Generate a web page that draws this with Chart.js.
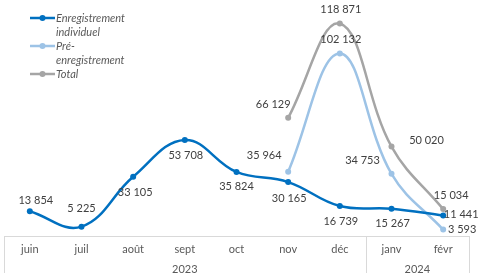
<!DOCTYPE html>
<html>
<head>
<meta charset="utf-8">
<script src="https://cdn.jsdelivr.net/npm/chart.js@4"></script>
<style>
  body { margin: 0; background: #fff; }
  #wrap { width: 481px; height: 273px; }
</style>
</head>
<body>
<div id="wrap"><canvas id="graf" width="481" height="273"></canvas></div>
<script>
// données
const mois = ["juin", "juil", "août", "sept", "oct", "nov", "déc", "janv", "févr"];
const annees = ["2023", "2024"];
const individuel = [13854, 5225, 33105, 53708, 35824, 30165, 16739, 15267, 11441];
const preEnreg = [null, null, null, null, null, 35964, 102132, 34753, 3593];
const total = [null, null, null, null, null, 66129, 118871, 50020, 15034];

const fmt = (v) => String(v).replace(/\B(?=(\d{3})+(?!\d))/g, " ");

// décalage des étiquettes par rapport au point [dx, dy]
const decalages = [
  [[6, -11], [0, -18], [2, 16], [1, 15], [0, 15], [1, 16], [1, 15], [1, 15], [18, -1]],
  [null, null, null, null, null, [-24, -16], [1, -14], [-29, -13], [19, 0]],
  [null, null, null, null, null, [-15, -13], [1, -14], [35, -6], [8, -14]],
];

const etiquettes = {
  id: "etiquettes",
  afterDatasetsDraw(chart) {
    const ctx = chart.ctx;
    ctx.save();
    ctx.font = "11px Lato";
    ctx.fillStyle = "#404040";
    ctx.textAlign = "center";
    ctx.textBaseline = "middle";
    chart.data.datasets.forEach((ds, i) => {
      const meta = chart.getDatasetMeta(i);
      meta.data.forEach((pt, j) => {
        const v = ds.data[j];
        if (v === null) return;
        const d = decalages[i][j];
        ctx.fillText(fmt(v), pt.x + d[0], pt.y + d[1]);
      });
    });
    ctx.restore();
  },
};

const cadreAxe = {
  id: "cadreAxe",
  afterDraw(chart) {
    const ctx = chart.ctx;
    const x = chart.scales.x;
    const g = x.left, dr = x.right;
    const sep = (x.getPixelForValue(6) + x.getPixelForValue(7)) / 2;
    const haut = chart.chartArea.bottom;
    ctx.save();
    ctx.strokeStyle = "#D9D9D9";
    ctx.lineWidth = 1;
    ctx.beginPath();
    ctx.moveTo(g, Math.round(haut) + 0.5);
    ctx.lineTo(dr, Math.round(haut) + 0.5);
    [g, sep, dr].forEach((px) => {
      ctx.moveTo(Math.round(px) + 0.5, haut);
      ctx.lineTo(Math.round(px) + 0.5, chart.height);
    });
    ctx.stroke();
    ctx.font = "11px Lato";
    ctx.fillStyle = "#595959";
    ctx.textAlign = "center";
    ctx.textBaseline = "middle";
    ctx.fillText(annees[0], (g + sep) / 2, 269);
    ctx.fillText(annees[1], (sep + dr) / 2, 269);
    ctx.restore();
  },
};

const legende = {
  id: "legende",
  afterDraw(chart) {
    const ctx = chart.ctx;
    const lignes = [
      [0, ["Enregistrement", "individuel"], 18],
      [1, ["Pré-", "enregistrement"], 46],
      [2, ["Total"], 74],
    ];
    ctx.save();
    ctx.font = "italic 11px Lato";
    ctx.textBaseline = "middle";
    ctx.textAlign = "left";
    lignes.forEach(([i, txt, y]) => {
      const c = chart.data.datasets[i].borderColor;
      ctx.strokeStyle = c;
      ctx.lineWidth = 2.5;
      ctx.beginPath();
      ctx.moveTo(30, y);
      ctx.lineTo(55, y);
      ctx.stroke();
      ctx.fillStyle = c;
      ctx.beginPath();
      ctx.arc(42.5, y, 3, 0, Math.PI * 2);
      ctx.fill();
      ctx.fillStyle = "#595959";
      txt.forEach((t, k) => ctx.fillText(t, 56, y + k * 14));
    });
    ctx.restore();
  },
};

const serie = (label, data, couleur) => ({
  label,
  data,
  borderColor: couleur,
  backgroundColor: couleur,
  borderWidth: 2.5,
  pointRadius: 3,
  pointBorderWidth: 0,
  tension: 0.4,
});

new Chart(document.getElementById("graf"), {
  type: "line",
  data: {
    labels: mois,
    datasets: [
      serie("Enregistrement individuel", individuel, "#0070C0"),
      serie("Pré-enregistrement", preEnreg, "#9DC3E6"),
      serie("Total", total, "#A5A5A5"),
    ],
  },
  options: {
    responsive: false,
    animation: false,
    layout: { autoPadding: false, padding: { left: 4, right: 12, top: 0, bottom: 0 } },
    plugins: { legend: { display: false }, tooltip: { enabled: false } },
    scales: {
      y: { display: false, min: 0, max: 132000 },
      x: {
        offset: true,
        grid: { display: false, drawTicks: false },
        border: { display: false },
        ticks: { color: "#595959", font: { family: "Lato", size: 11 }, padding: 7, maxRotation: 0, autoSkip: false },
        afterFit: (axe) => { axe.height = 37; },
      },
    },
  },
  plugins: [etiquettes, cadreAxe, legende],
});
</script>
</body>
</html>
